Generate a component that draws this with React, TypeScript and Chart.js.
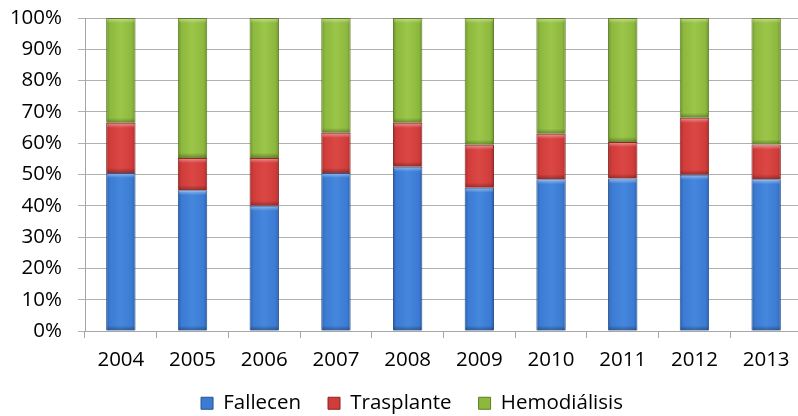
import React, { useEffect, useRef } from "react";
import { Chart, registerables } from "chart.js";

Chart.register(...registerables);

const years = ["2004", "2005", "2006", "2007", "2008", "2009", "2010", "2011", "2012", "2013"];
const fallecen = [50.5, 45.0, 40.0, 50.5, 52.5, 45.8, 48.5, 48.7, 49.9, 48.5];
const trasplante = [16.0, 10.3, 15.3, 12.8, 14.0, 13.7, 14.5, 11.7, 18.2, 11.1];
const hemodialisis = [33.5, 44.7, 44.7, 36.7, 33.5, 40.5, 37.0, 39.6, 31.9, 40.4];
const seriesNames = ["Fallecen", "Trasplante", "Hemodiálisis"];
const yTicks = [0, 10, 20, 30, 40, 50, 60, 70, 80, 90, 100];

const palettes = [
  { edge: "#2c5ea6", mid: "#3b7bd3", light: "#4687de", border: "#27528f" },
  { edge: "#a52c2a", mid: "#d03c3a", light: "#db4844", border: "#8a2422" },
  { edge: "#6b8f2c", mid: "#8cb83d", light: "#9bc64a", border: "#5d7b25" },
];

const BAR_PCT = 0.41;
const FONT = "'Open Sans', 'Liberation Sans', sans-serif";
const FONT_SIZE = 20.5;

function makeFill(idx: number) {
  const p = palettes[idx];
  return (ctx: any) => {
    if (ctx.type !== "data") return p.mid;
    const chart = ctx.chart;
    const xs = chart.scales.x;
    if (!xs || !chart.chartArea) return p.mid;
    const cx = xs.getPixelForValue(ctx.dataIndex);
    const cw = (xs.right - xs.left) / years.length;
    const w = cw * BAR_PCT;
    const g = chart.ctx.createLinearGradient(cx - w / 2, 0, cx + w / 2, 0);
    g.addColorStop(0, p.edge);
    g.addColorStop(0.12, p.mid);
    g.addColorStop(0.5, p.light);
    g.addColorStop(0.88, p.mid);
    g.addColorStop(1, p.edge);
    return g;
  };
}

const bevelPlugin = {
  id: "bevel",
  afterDatasetsDraw(chart: any) {
    const c = chart.ctx;
    chart.data.datasets.forEach((_: any, di: number) => {
      const meta = chart.getDatasetMeta(di);
      meta.data.forEach((el: any) => {
        const top = Math.min(el.y, el.base);
        const bottom = Math.max(el.y, el.base);
        const left = el.x - el.width / 2;
        const w = el.width;
        if (bottom - top < 8) return;
        const gt = c.createLinearGradient(0, top, 0, top + 5);
        gt.addColorStop(0, "rgba(255,255,255,0.45)");
        gt.addColorStop(1, "rgba(255,255,255,0)");
        c.fillStyle = gt;
        c.fillRect(left + 1, top + 1, w - 2, 5);
        const gb = c.createLinearGradient(0, bottom - 5, 0, bottom);
        gb.addColorStop(0, "rgba(0,0,0,0)");
        gb.addColorStop(1, "rgba(0,0,0,0.3)");
        c.fillStyle = gb;
        c.fillRect(left + 1, bottom - 5, w - 2, 5);
      });
    });
  },
};

const layoutTweakPlugin = {
  id: "layoutTweak",
  beforeInit(chart: any) {
    const lg = chart.legend;
    if (!lg) return;
    const orig = lg.fit;
    lg.fit = function () {
      orig.call(this);
      this.height = 54;
    };
  },
  afterLayout(chart: any) {
    const lg = chart.legend;
    if (lg) {
      lg.left += 11;
      lg.right += 11;
      lg.top += 4;
      lg.bottom += 4;
    }
    const xs = chart.scales.x;
    if (xs) xs._computeLabelArea = () => undefined;
  },
};

export default function App() {
  const ref = useRef<HTMLCanvasElement | null>(null);
  useEffect(() => {
    if (!ref.current) return;
    const chart = new Chart(ref.current, {
      type: "bar",
      data: {
        labels: years,
        datasets: [fallecen, trasplante, hemodialisis].map((d, i) => ({
          label: seriesNames[i],
          data: d,
          backgroundColor: makeFill(i),
          borderColor: palettes[i].border,
          borderWidth: 1,
          categoryPercentage: 1,
          barPercentage: BAR_PCT,
        })),
      },
      options: {
        responsive: false,
        animation: false,
        devicePixelRatio: 1,
        layout: { padding: { top: 18, right: 4, left: 0, bottom: 0 } },
        scales: {
          x: {
            stacked: true,
            afterFit: (s: any) => {
              s.height = 31;
            },
            grid: { drawOnChartArea: false, drawTicks: true, tickLength: 7, color: "#a6a6a6" },
            border: { color: "#a6a6a6" },
            ticks: { color: "#000", font: { family: FONT, size: FONT_SIZE }, padding: 10 },
          },
          y: {
            stacked: true,
            min: 0,
            max: 100,
            afterBuildTicks: (s: any) => {
              s.ticks = yTicks.map((v) => ({ value: v }));
            },
            afterFit: (s: any) => {
              s.width = 85;
              s.paddingTop = 0;
              s.paddingBottom = 0;
            },
            grid: { color: "#b0b0b0", tickLength: 7 },
            border: { color: "#a6a6a6" },
            ticks: {
              color: "#000",
              font: { family: FONT, size: FONT_SIZE },
              padding: 16,
              callback: (v: any) => v + "%",
            },
          },
        },
        plugins: {
          legend: {
            position: "bottom",
            labels: {
              color: "#000",
              font: { family: FONT, size: FONT_SIZE },
              boxWidth: 12,
              boxHeight: 12,
              padding: 27,
              generateLabels: (ch: any) =>
                ch.data.datasets.map((ds: any, i: number) => ({
                  text: ds.label,
                  fillStyle: palettes[i].mid,
                  strokeStyle: palettes[i].border,
                  lineWidth: 1,
                  hidden: false,
                  datasetIndex: i,
                  fontColor: "#000",
                })),
            },
          },
          tooltip: { enabled: false },
        },
      },
      plugins: [bevelPlugin, layoutTweakPlugin],
    });
    return () => chart.destroy();
  }, []);
  return (
    <div style={{ position: "fixed", left: 0, top: 0, width: 798, height: 416, overflow: "hidden", background: "#fff" }}>
      <canvas ref={ref} width={806} height={416} style={{ display: "block" }} />
    </div>
  );
}
